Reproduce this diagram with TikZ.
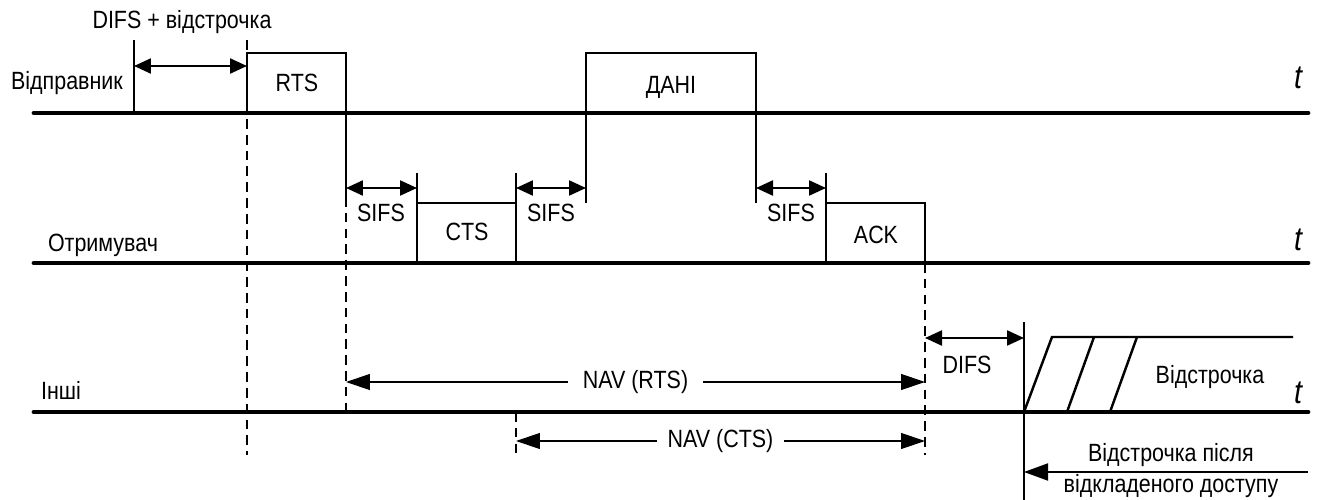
\documentclass[tikz,border=0pt]{standalone}
\usepackage{fontspec}
\setmainfont[FakeStretch=0.86]{Liberation Sans}
\usetikzlibrary{arrows.meta, positioning, calc}
\tikzset{
    axisline/.style={
        line width=2.8pt,
        line cap=round,
    },
    frame/.style={
        line width=1.4pt,
    },
    guide/.style={
        line width=0.7pt,
    },
    dashguide/.style={
        line width=0.7pt,
        dash pattern=on 5.5pt off 3.5pt,
    },
    dblarrow/.style={
        {Triangle[length=3.4mm, width=3mm]}-{Triangle[length=3.4mm, width=3mm]},
        line width=1.3pt,
    },
    navarrow/.style={
        {Triangle[length=4.8mm, width=3.2mm]}-{Triangle[length=4.8mm, width=3.2mm]},
        line width=0.7pt,
    },
    larrow/.style={
        -{Triangle[length=4.8mm, width=3.4mm]},
        line width=1.1pt,
    },
    txt/.style={
        font=\fontsize{14.2}{17.6}\selectfont,
        inner sep=1pt,
    },
    taxis/.style={
        font=\fontsize{19}{21}\selectfont\itshape,
        inner sep=1pt,
    },
}

\begin{document}
\begin{tikzpicture}[x=0.02cm, y=-0.02cm]
\useasboundingbox (0,0) rectangle (1320,500);

% ===== Time axes =====
\coordinate (sL) at (34,113);
\coordinate (sR) at (1308,113);
\coordinate (rL) at (34,263);
\coordinate (rR) at (1308,263);
\coordinate (oL) at (34,412);
\coordinate (oR) at (1308,412);

% ===== Time marks =====
\coordinate (xDifs) at (134,0);
\coordinate (xRts) at (247,0);
\coordinate (xRtsE) at (346,0);
\coordinate (xCts) at (417,0);
\coordinate (xCtsE) at (516,0);
\coordinate (xData) at (586,0);
\coordinate (xDataE) at (756,0);
\coordinate (xAck) at (826,0);
\coordinate (xAckE) at (925,0);
\coordinate (xBo) at (1024,0);

% ===== Guides =====
\draw[dashguide] ($(xRts |- sL)+(0,-73)$) -- ($(xRts |- oL)+(0,43)$);
\draw[guide] (xRtsE |- sL) -- ++(0,84);
\draw[dashguide] ($(xRtsE |- sL)+(0,84)$) -- (xRtsE |- oL);
\draw[guide] (xData |- sL) -- ++(0,90);
\draw[guide] (xDataE |- sL) -- ++(0,90);
\draw[dashguide] (xAckE |- rL) -- ($(xAckE |- oL)+(0,43)$);
\draw[dashguide] (xCtsE |- oL) -- ++(0,43);

% ===== Sender =====
\node[txt] (sender) at (67,83) {Відправник};
\node[txt] (difsbo) at (182,22) {DIFS + відстрочка};
\draw[frame] (xDifs |- sL) -- ++(0,-73);
\draw[dblarrow] ($(xDifs |- sL)+(0,-47)$) -- ($(xRts |- sL)+(0,-47)$);

% RTS
\draw[frame] (xRts |- sL) -- ++(0,-60) -| (xRtsE |- sL);
\node[txt] (rts) at (297,83) {RTS};

% DATA
\draw[frame] (xData |- sL) -- ++(0,-60) -| (xDataE |- sL);
\node[txt] (data) at (671,87) {ДАНІ};

% ===== Receiver =====
\node[txt] (receiver) at (103,245) {Отримувач};

% CTS
\draw[frame] (xCts |- rL) -- ++(0,-90);
\draw[frame] (xCtsE |- rL) -- ++(0,-90);
\draw[frame] ($(xCts |- rL)+(0,-60)$) -- ($(xCtsE |- rL)+(0,-60)$);
\node[txt] (cts) at (467,232) {CTS};

% ACK
\draw[frame] (xAck |- rL) -- ++(0,-90);
\draw[frame] ($(xAck |- rL)+(0,-60)$) -| (xAckE |- rL);
\node[txt] (ack) at (876,235) {ACK};

% SIFS
\draw[dblarrow] ($(xRtsE |- rL)+(0,-75)$) -- ($(xCts |- rL)+(0,-75)$);
\draw[dblarrow] ($(xCtsE |- rL)+(0,-75)$) -- ($(xData |- rL)+(0,-75)$);
\draw[dblarrow] ($(xDataE |- rL)+(0,-75)$) -- ($(xAck |- rL)+(0,-75)$);
\node[txt] (sifs1) at (381,213) {SIFS};
\node[txt] (sifs2) at (551,213) {SIFS};
\node[txt] (sifs3) at (791,213) {SIFS};

% ===== Others =====
\node[txt] (others) at (61,390) {Інші};

% NAV
\draw[navarrow] ($(xRtsE |- oL)+(0,-30)$) -- node[txt, fill=white, inner xsep=8.5pt] (navrts) {NAV (RTS)} ($(xAckE |- oL)+(0,-30)$);
\draw[navarrow] ($(xCtsE |- oL)+(0,29)$) -- node[txt, fill=white, inner xsep=6pt] (navcts) {NAV (CTS)} ($(xAckE |- oL)+(0,29)$);

% DIFS
\draw[dblarrow] ($(xAckE |- oL)+(0,-74)$) -- ($(xBo |- oL)+(0,-74)$);
\node[txt] (difs) at (967,365) {DIFS};
\draw[frame] ($(xBo |- oL)+(0,-90)$) -- ($(xBo |- oL)+(0,88)$);

% Backoff
\draw[frame] (xBo |- oL) -- ++(28,-75) -- ++(241,0);
\draw[frame] ($(xBo |- oL)+(43,0)$) -- ++(27,-75);
\draw[frame] ($(xBo |- oL)+(86,0)$) -- ++(27,-75);
\node[txt] (backoff) at (1210,377) {Відстрочка};

% deferred access
\draw[larrow] ($(oR)+(0,60)$) -- ($(xBo |- oR)+(0,60)$);
\node[txt, align=center] (deferred) at (1171,471) {Відстрочка після\\відкладеного доступу};

% ===== Axes on top =====
\draw[axisline] (sL) -- (sR);
\draw[axisline] (rL) -- (rR);
\draw[axisline] (oL) -- (oR);
\node[taxis] (tS) at (1298,78) {t};
\node[taxis] (tR) at (1298,240) {t};
\node[taxis] (tO) at (1298,393) {t};

\end{tikzpicture}
\end{document}
